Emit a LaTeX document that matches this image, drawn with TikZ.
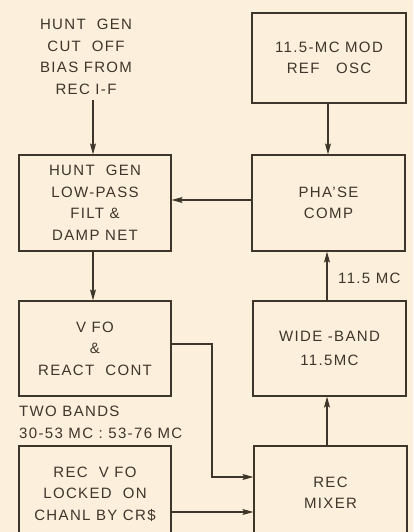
\documentclass[tikz,border=0pt]{standalone}
\usepackage{fontspec}
\setmainfont{Liberation Sans}[LetterSpace=9]
\usetikzlibrary{arrows.meta}
\definecolor{paper}{HTML}{FCF0DC}
\definecolor{ink}{HTML}{3E352B}
\tikzset{
  box/.style={draw=ink, line width=1.2pt, minimum width=152pt, minimum height=96pt, inner sep=0pt},
  txt/.style={text=ink, align=center, font=\fontsize{15}{21.5}\selectfont, inner sep=0pt},
  wire/.style={draw=ink, line width=1.1pt},
  arr/.style={wire, -{Stealth[length=11pt,width=6pt,inset=2pt]}},
}
\begin{document}
\begin{tikzpicture}[x=1pt,y=-1pt]
\fill[paper] (0,0) rectangle (413,532);
\useasboundingbox (0,0) rectangle (413,532);
% left column
\node[box] (hunt) at (95,203) {};
\node[txt] at (hunt.center) {HUNT\ \ GEN\\LOW-PASS\\FILT \&\\DAMP NET};
\node[box, minimum height=95pt] (vfo) at (95,348.5) {};
\node[txt] at (vfo.center) {V FO\\\&\\REACT\ \ CONT};
\node[box] (recvfo) at (95,494) {};
\node[txt] at (95,494) {REC\ \ V FO\\LOCKED\ \ ON\\CHANL BY CR\$};
% right column
\node[box, minimum width=154pt, minimum height=90pt] (ref) at (329,58) {};
\node[txt] at (ref.center) {11.5-MC MOD\\REF\ \ \ OSC};
\node[box, minimum width=153pt] (phase) at (328.5,203) {};
\node[txt] at (phase.center) {PHA'SE\\COMP};
\node[box, minimum width=153pt, minimum height=95pt] (wide) at (329.5,348.5) {};
\node[txt, font=\fontsize{15}{24}\selectfont] at (wide.center) {WIDE -BAND\\11.5MC};
\node[box, minimum width=153pt] (mix) at (330.5,494) {};
\node[txt] at (330.5,493) {REC\\MIXER};
% free text
\node[txt] (bias) at (86,57) {HUNT\ \ GEN\\CUT\ \ OFF\\BIAS FROM\\REC I-F};
\node[txt, align=left, anchor=west] (bands) at (19,422.5) {TWO BANDS\\30-53 MC : 53-76 MC};
\node[txt, anchor=west] (lbl) at (338,278) {11.5 MC};
% connectors
\coordinate (biasend) at (93,100);
\draw[arr] (biasend) -- (hunt.north -| biasend);
\draw[arr] (hunt.south -| biasend) -- (vfo.north -| biasend);
\draw[arr] (ref.south -| 328,0) -- (phase.north -| 328,0);
\draw[arr] (phase.west |- 0,200) -- (hunt.east |- 0,200);
\draw[arr] (wide.north -| 327,0) -- (phase.south -| 327,0);
\draw[arr] (mix.north -| 327,0) -- (wide.south -| 327,0);
\draw[arr] (vfo.east |- 0,344) -| (212,477) -- (mix.west |- 0,477);
\draw[arr] (recvfo.east |- 0,512) -- (mix.west |- 0,512);
\end{tikzpicture}
\end{document}
